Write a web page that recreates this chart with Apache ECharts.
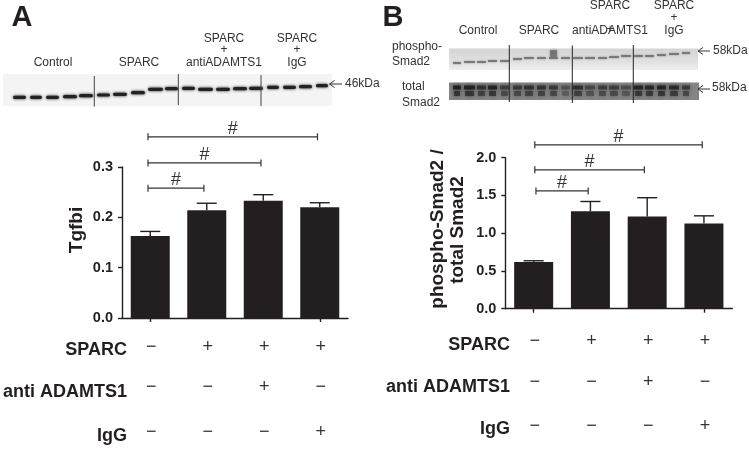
<!DOCTYPE html>
<html><head><meta charset="utf-8">
<style>html,body{margin:0;padding:0;background:#fff}#c{width:749px;height:449px}</style>
<script src="https://cdn.jsdelivr.net/npm/echarts@6/dist/echarts.min.js"></script>
</head><body><div id="c"></div>
<script>
// ---- chart data ----
const groups = ['Control', 'SPARC', 'SPARC + antiADAMTS1', 'SPARC + IgG'];
const tgfbi = [0.163, 0.214, 0.233, 0.220];
const tgfbiTop = [0.172, 0.228, 0.245, 0.229];
const psmad = [0.62, 1.29, 1.22, 1.13];
const psmadTop = [0.635, 1.42, 1.47, 1.23];
const sparcRow = [0, 1, 1, 1];
const antiRow = [0, 0, 1, 0];
const iggRow = [0, 0, 0, 1];
const rowNames = ['SPARC', 'anti ADAMTS1', 'IgG'];
// brackets: from group position, to group position, value level
const bracketsA = [[-0.04, 0.95, 0.258], [-0.04, 1.96, 0.308], [-0.04, 2.96, 0.36]];
const bracketsB = [[0.04, 0.96, 1.56], [0.02, 1.95, 1.84], [0.02, 2.97, 2.17]];

// ---- blot picture approximation ----
const bandsA = [[13,26,97.3],[30,42,97.3],[46,59,97.3],[63,77,96.7],[79,93,95.7],[97,110,95],[113,127,94.3],[131,145,92.7],[148,163,89.3],[165,178,88.7],[182,195,88.3],[198,213,89.3],[216,230,89.3],[233,247,88.7],[249,263,88.3],[267,279,87.3],[283,296,87.3],[299,312,86.7],[316,328,85.7]];
const bandsB = [[453,461,63],[464,475,62],[477,486,62],[488,497,61],[500,509,61],[513,522,59],[524,534,58],[537,546,58],[549,558,58],[561,570,58],[573,583,58],[585,595,58],[598,607,58],[609,619,57],[621,631,56],[634,643,56],[645,654,56],[657,666,55],[669,679,54],[682,690,53]];
const laneDark = [.95,.9,.75,.9,.6,.65,.7,.7,.65,.4,.75,.5,.6,.6,.45,.9,.85,.9,.8,.65];

const FONT = '"Liberation Sans", Arial, sans-serif';
const INK = '#231f20';
const g = [];
const txt = (x, y, text, o = {}) => g.push({type:'text', x, y, silent:true, rotation:o.rot||0,
  style:{text, fontFamily:FONT, fontSize:o.size||12, fontWeight:o.w||'normal', fill:o.c||'#333',
  textAlign:o.a||'center', textVerticalAlign:'middle', lineHeight:o.lh}});
const rect = (x, y, w, h, fill, o = {}) => g.push({type:'rect', silent:true, z:o.z||0,
  shape:{x, y, width:w, height:h, r:o.r||0}, style:{fill, opacity:o.op==null?1:o.op, shadowBlur:o.blur||0, shadowColor:fill}});
const line = (x1, y1, x2, y2, c = '#222', w = 1) => g.push({type:'line', silent:true,
  shape:{x1,y1,x2,y2}, style:{stroke:c, lineWidth:w}});
const arrow = (x1, x2, y) => { line(x1,y,x2,y,'#333',1); g.push({type:'polyline', silent:true,
  shape:{points:[[x1+5,y-3.5],[x1,y],[x1+5,y+3.5]]}, style:{stroke:'#333', lineWidth:1, fill:'none'}}); };

// panel A blot
rect(3, 74, 329, 32, '#f4f4f4');
bandsA.forEach(b => rect(b[0], b[2]-1.6, b[1]-b[0], 3.2, '#222', {r:1.6, blur:3}));
[[94.3,76,106.5],[178.3,74,105],[261,75,106]].forEach(l => line(l[0],l[1],l[0],l[2],'#444',1));
arrow(329.5, 342, 84);
txt(345, 84, '46kDa', {a:'left'});
txt(53, 63, 'Control'); txt(139, 63, 'SPARC');
txt(224, 38.5, 'SPARC'); txt(224, 50, '+'); txt(224, 63, 'antiADAMTS1');
txt(297, 38.5, 'SPARC'); txt(297, 50, '+'); txt(297, 63, 'IgG');

// panel B blots
g.push({type:'rect', silent:true, shape:{x:449,y:48.5,width:249,height:21.5},
  style:{fill:{type:'linear',x:0,y:0,x2:0,y2:1,colorStops:[{offset:0,color:'#d4d4d4'},{offset:.6,color:'#e0e0e0'},{offset:1,color:'#eeeeee'}]}}});
rect(550, 50, 7, 7, '#666', {blur:3, op:.7});
bandsB.forEach(b => rect(b[0], b[2]-.7, b[1]-b[0], 1.4, '#666', {blur:2}));
rect(449, 82.5, 250, 17.5, '#858585');
bandsB.forEach((b, i) => {
  const cx = b[0], w = b[1]-b[0];
  rect(cx, 85.5, w, 4, '#181818', {blur:4, op:laneDark[i]*.9});
  rect(cx+1, 91, w-2, 5, '#222', {blur:4, op:laneDark[i]*.75});
});
[[509.3,45,102],[572.3,45.5,103],[633.3,45,103]].forEach(l => line(l[0],l[1],l[0],l[2],'#222',1));
arrow(698, 710, 51); arrow(698, 710, 89);
txt(713, 51, '58kDa', {a:'left'}); txt(712, 88, '58kDa', {a:'left'});
txt(392, 47, 'phospho-', {a:'left'}); txt(392, 62, 'Smad2', {a:'left'});
txt(402, 87, 'total', {a:'left'}); txt(402, 103, 'Smad2', {a:'left'});
txt(478, 31, 'Control'); txt(539, 31, 'SPARC');
txt(610, 6, 'SPARC'); txt(610, 30, '+'); txt(610, 31, 'antiADAMTS1');
txt(674, 6, 'SPARC'); txt(674, 18, '+'); txt(674, 31, 'IgG');

// panel letters and axis titles
txt(22, 18, 'A', {size:29, w:'bold', c:INK});
txt(393, 18, 'B', {size:29, w:'bold', c:INK});
const R = Math.PI/2;
txt(77, 230, 'Tgfbi', {size:19, w:'bold', c:INK, rot:R});
txt(438, 229, 'phospho-Smad2 /', {size:19, w:'bold', c:INK, rot:R});
txt(458, 230, 'total Smad2', {size:19, w:'bold', c:INK, rot:R});

// row titles
[350,392,436].forEach((y,i) => txt(127, y, rowNames[i], {size:18, w:'bold', c:INK, a:'right'}));
[345,387,429].forEach((y,i) => txt(510, y, rowNames[i], {size:18, w:'bold', c:INK, a:'right'}));

const errItem = (p, api) => {
  const i = api.value(0), a = api.coord([i, api.value(1)]), b = api.coord([i, api.value(2)]);
  return {type:'group', children:[
    {type:'line', shape:{x1:a[0],y1:a[1],x2:b[0],y2:b[1]}, style:{stroke:INK, lineWidth:1.4}},
    {type:'line', shape:{x1:b[0]-10,y1:b[1],x2:b[0]+10,y2:b[1]}, style:{stroke:INK, lineWidth:1.4}}]};
};
const bracketItem = (p, api) => {
  const a = api.coord([api.value(0), api.value(2)]), b = api.coord([api.value(1), api.value(2)]);
  const s = {stroke:'#333', lineWidth:1.2};
  return {type:'group', children:[
    {type:'line', shape:{x1:a[0],y1:a[1],x2:b[0],y2:b[1]}, style:s},
    {type:'line', shape:{x1:a[0],y1:a[1]-3.5,x2:a[0],y2:a[1]+3.5}, style:s},
    {type:'line', shape:{x1:b[0],y1:b[1]-3.5,x2:b[0],y2:b[1]+3.5}, style:s},
    {type:'text', x:(a[0]+b[0])/2, y:a[1]-8, style:{text:'#', fontFamily:FONT, fontSize:18, fill:'#333', textAlign:'center', textVerticalAlign:'middle'}}]};
};
const signItem = rowY => (p, api) => {
  const x = api.coord([api.value(0), 0])[0] + 1;
  return {type:'text', x, y:rowY[api.value(1)], style:{text:api.value(2)?'+':'\u2212', fontFamily:FONT, fontSize:18, fill:'#333', textAlign:'center', textVerticalAlign:'middle'}};
};
const signData = [sparcRow, antiRow, iggRow].flatMap((r, ri) => r.map((v, c) => [c, ri, v]));
const withIdx = (a, b) => a.map((v, i) => [i, v, b[i]]);

const yAxis = (gridIndex, max, interval, digits) => ({type:'value', gridIndex, min:0, max, interval, position:'left',
  axisLine:{show:true, onZero:false, lineStyle:{color:INK, width:1.4}},
  axisTick:{show:true, length:4, lineStyle:{color:INK, width:1.4}},
  splitLine:{show:false},
  axisLabel:{margin:9, fontFamily:FONT, fontSize:14.5, fontWeight:'bold', color:INK, formatter:v => v.toFixed(digits)}});
const xCat = gridIndex => ({type:'category', gridIndex, data:groups, boundaryGap:true,
  axisLine:{onZero:false, lineStyle:{color:INK, width:1.4}},
  axisTick:{show:true, alignWithLabel:true, length:4, lineStyle:{color:INK, width:1.4}},
  axisLabel:{show:false}});
const xVal = gridIndex => ({type:'value', gridIndex, min:-0.5, max:3.5, show:false});

const panel = (k, vals, tops, brackets, rowY) => [
  {type:'bar', xAxisIndex:k, yAxisIndex:k, data:vals, barWidth:39, itemStyle:{color:INK}, silent:true},
  {type:'custom', xAxisIndex:k, yAxisIndex:k, renderItem:errItem, data:withIdx(vals, tops), z:1, silent:true},
  {type:'custom', xAxisIndex:k+2, yAxisIndex:k, renderItem:bracketItem, data:brackets, clip:false, silent:true},
  {type:'custom', xAxisIndex:k+2, yAxisIndex:k, renderItem:signItem(rowY), data:signData, clip:false, silent:true}
];

const chart = echarts.init(document.getElementById('c'), null, {renderer:'canvas'});
chart.setOption({
  animation:false, backgroundColor:'#fff',
  grid:[{left:122, top:167, width:226, height:151}, {left:505.3, top:157.7, width:227, height:151}],
  xAxis:[xCat(0), xCat(1), xVal(0), xVal(1)],
  yAxis:[yAxis(0, 0.3, 0.1, 1), yAxis(1, 2, 0.5, 1)],
  series:[...panel(0, tgfbi, tgfbiTop, bracketsA, [347,387,432]),
          ...panel(1, psmad, psmadTop, bracketsB, [341,382,426])],
  graphic:g
});
</script></body></html>
